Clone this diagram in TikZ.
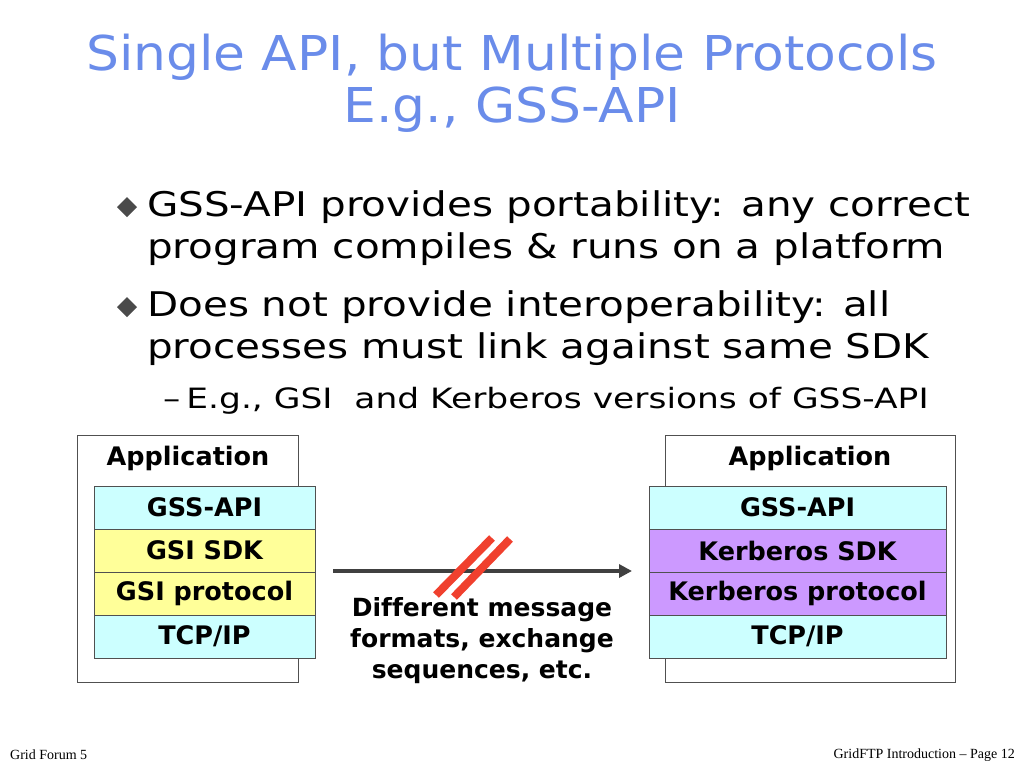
\documentclass[tikz,border=0pt]{standalone}
\usepackage{fontspec}
\setmainfont[Ligatures=NoCommon]{DejaVu Sans}
\newfontfamily\titlefont[FakeStretch=1.08]{DejaVu Sans}
\newfontfamily\bodyfont[FakeStretch=1.19]{DejaVu Sans}
\newfontfamily\subfont[FakeStretch=1.23]{DejaVu Sans}
\newfontfamily\footfont{Liberation Serif}
\usetikzlibrary{arrows.meta}
\definecolor{titleblue}{HTML}{6A8CEA}
\definecolor{cyanfill}{HTML}{CCFFFF}
\definecolor{yellowfill}{HTML}{FFFF99}
\definecolor{purplefill}{HTML}{CC99FF}
\definecolor{edgegray}{HTML}{505050}
\definecolor{arrowgray}{HTML}{404040}
\definecolor{barred}{HTML}{F0402E}
\definecolor{bulletgray}{HTML}{4A4A4A}
\tikzset{
  outerbox/.style={draw=edgegray, line width=1pt, fill=white},
  layer/.style={draw=edgegray, line width=1pt, minimum height=43pt, inner sep=0pt, font=\fontsize{25.5}{30}\selectfont\bfseries},
  titletext/.style={text=titleblue, font=\titlefont\fontsize{48}{54}\selectfont, inner sep=0pt},
  bodytext/.style={font=\bodyfont\fontsize{34}{40}\selectfont, inner sep=0pt, anchor=west},
  subtext/.style={font=\subfont\fontsize{28}{32}\selectfont, inner sep=0pt, anchor=west},
  bulletmark/.style={fill=bulletgray, draw=none},
  apptext/.style={font=\fontsize{25.5}{30}\selectfont\bfseries, inner sep=0pt},
  foottext/.style={font=\footfont\fontsize{14}{16}\selectfont, inner sep=0pt},
}
\begin{document}
\begin{tikzpicture}[x=1pt,y=-1pt]
\useasboundingbox (0,0) rectangle (1024,768);
% title
\node[titletext] (t1) at (512,57) {Single API, but Multiple Protocols};
\node[titletext] (t2) at (512,110) {E.g., GSS-API};
% bullets
\fill[bulletmark] (127,197) -- (137,207) -- (127,217) -- (117,207) -- cycle;
\node[bodytext] (b1) at (147,207) {GSS-API provides portability: any correct};
\node[bodytext] (b1b) at (147,249) {program compiles \& runs on a platform};
\fill[bulletmark] (127,297) -- (137,307) -- (127,317) -- (117,307) -- cycle;
\node[bodytext] (b2) at (147,307) {Does not provide interoperability: all};
\node[bodytext] (b2b) at (147,349) {processes must link against same SDK};
\node[subtext] (s1) at (163,401) {–\hspace{6pt}E.g., GSI\ \ and Kerberos versions of GSS-API};
% left stack
\draw[outerbox] (77,435) rectangle (298,682);
\node[apptext] (lapp) at (188,458) {Application};
\node[layer, fill=cyanfill, minimum width=221pt] (lg) at (204.5,507.5) {GSS-API};
\node[layer, fill=yellowfill, minimum width=221pt] (ls) at (204.5,550.5) {GSI SDK};
\node[layer, fill=yellowfill, minimum width=221pt] (lp) at (204.5,593.5) {GSI protocol};
\node[layer, fill=cyanfill, minimum width=221pt] (lt) at (204.5,636.5) {TCP/IP};
% right stack
\draw[outerbox] (665,435) rectangle (955,682);
\node[apptext] (rapp) at (810,458) {Application};
\node[layer, fill=cyanfill, minimum width=297pt] (rg) at (797.5,507.5) {GSS-API};
\node[layer, fill=purplefill, minimum width=297pt] (rs) at (797.5,550.5) {Kerberos SDK};
\node[layer, fill=purplefill, minimum width=297pt] (rp) at (797.5,593.5) {Kerberos protocol};
\node[layer, fill=cyanfill, minimum width=297pt] (rt) at (797.5,636.5) {TCP/IP};
% arrow
\coordinate (as) at (333,571);
\coordinate (ae) at (632,571);
\draw[arrowgray, line width=3.5pt, -{Triangle[length=13pt,width=13pt]}] (as) -- (ae);
\draw[barred, line width=8pt] (436,595) -- (492,538);
\draw[barred, line width=8pt] (454,597) -- (510,539);
\node[font=\fontsize{25}{31}\selectfont\bfseries, align=center, inner sep=0pt] (msg) at (482,641) {Different message\\formats, exchange\\sequences, etc.};
% footer
\node[foottext, anchor=west] (f1) at (10,755) {Grid Forum 5};
\node[foottext, anchor=east] (f2) at (1015,755) {GridFTP Introduction – Page 12};
\end{tikzpicture}
\end{document}
